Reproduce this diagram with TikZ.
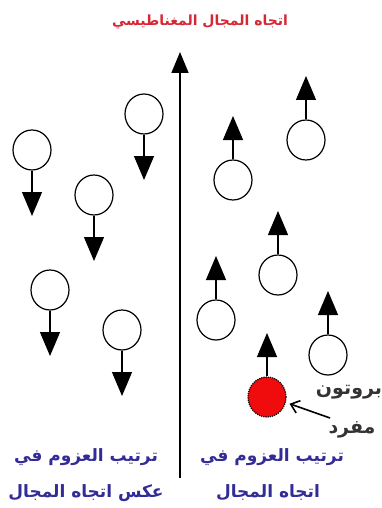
\documentclass[tikz,border=0pt]{standalone}
\usepackage{fontspec}
\newfontfamily\arabicfont[Script=Arabic]{DejaVu Sans}
\TeXXeTstate=1
\usetikzlibrary{arrows.meta,shapes.geometric}
\definecolor{titlered}{RGB}{214,40,52}
\definecolor{capblue}{RGB}{52,44,150}
\definecolor{protred}{RGB}{240,12,12}
\tikzset{
  spin/.style={ellipse,draw,line width=1.2pt,minimum width=38pt,minimum height=40pt,inner sep=0pt},
  moment/.style={line width=1.2pt,-{Triangle[length=24pt,width=20pt]}},
  axisline/.style={line width=1.6pt,-{Triangle[length=21pt,width=17pt]}},
  pointer/.style={line width=1.6pt,-{Straight Barb[length=8pt,width=13pt]}},
  lbl/.style={font=\arabicfont\bfseries\fontsize{17}{17}\selectfont,inner sep=0pt},
  biglbl/.style={lbl,text=black!80,font=\arabicfont\bfseries\fontsize{19}{19}\selectfont},
}

\begin{document}
\begin{tikzpicture}[x=1pt,y=-1pt]
  \useasboundingbox (0,0) rectangle (382,508);

  % field direction
  \node[lbl,text=titlered,font=\arabicfont\bfseries\fontsize{14}{14}\selectfont] (title) at (200,22) {\beginR اتجاه المجال المغناطيسي\endR};
  \coordinate (axisbot) at (180,478);
  \coordinate (axistop) at (180,52);
  \draw[axisline] (axisbot) -- (axistop);

  % moments against the field
  \foreach \n/\x/\y in {a/144/114, b/32/150, c/94/195, d/50/290, e/122/330}{
    \node[spin] (l\n) at (\x,\y) {};
    \coordinate (lt\n) at (\x,\y+66);
    \draw[moment] (l\n.south) -- (lt\n);
  }

  % moments along the field
  \foreach \n/\x/\y in {a/306/140, b/233/180, c/278/275, d/216/320, e/328/355}{
    \node[spin] (r\n) at (\x,\y) {};
    \coordinate (rt\n) at (\x,\y-64);
    \draw[moment] (r\n.north) -- (rt\n);
  }

  % unpaired proton
  \node[spin,fill=protred,densely dotted] (proton) at (267,397) {};
  \coordinate (protontip) at (267,333);
  \draw[moment] (proton.north) -- (protontip);
  \node[biglbl] (protlbl) at (349,392) {\beginR بروتون\endR};
  \node[biglbl] (single) at (352,430) {\beginR مفرد\endR};
  \coordinate (ptail) at (330,418);
  \draw[pointer] (ptail) -- ([xshift=4pt]proton.-20);

  % captions
  \node[lbl,text=capblue] (lcap1) at (86,457) {\beginR ترتيب العزوم في\endR};
  \node[lbl,text=capblue] (lcap2) at (86,493) {\beginR عكس اتجاه المجال\endR};
  \node[lbl,text=capblue] (rcap1) at (272,457) {\beginR ترتيب العزوم في\endR};
  \node[lbl,text=capblue] (rcap2) at (268,493) {\beginR اتجاه المجال\endR};
\end{tikzpicture}
\end{document}
